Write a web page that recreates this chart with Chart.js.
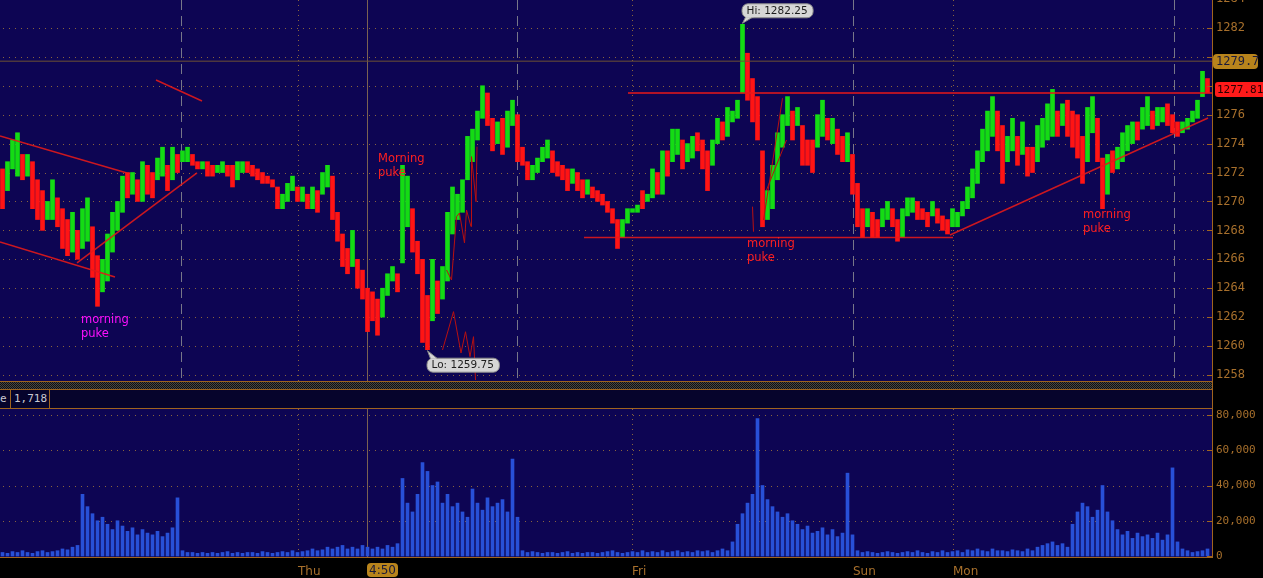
<!DOCTYPE html>
<html><head><meta charset="utf-8">
<script src="https://cdn.jsdelivr.net/npm/chart.js@4.4.1/dist/chart.umd.min.js"></script>
<style>
html,body{margin:0;padding:0;background:#000;overflow:hidden}
#wrap{position:relative;width:1263px;height:578px;background:#000}
canvas{position:absolute;left:0;display:block}
.ln{position:absolute;left:0;width:1213px;height:1px;background:#a0641e}
#chk{position:absolute;left:0;top:382px;width:1212px;height:7px;background-color:#202020;background-image:repeating-conic-gradient(#444 0 25%,#111 0 50%);background-size:2px 2px}
#hdr{position:absolute;left:0;top:390px;width:1212px;height:18px;background:#06042c;font:11px "DejaVu Sans Mono",monospace;color:#c9c9d2}
#hdr span{position:absolute;top:2px}
#hdr i{position:absolute;top:0;width:1px;height:18px;background:#a0641e}
#ax{position:absolute;left:1212px;top:381px;width:1px;height:28px;background:#a0641e}
</style></head>
<body><div id="wrap">
<canvas id="pc" width="1263" height="381" style="top:0"></canvas>
<div class="ln" style="top:381px"></div>
<div id="chk"></div>
<div class="ln" style="top:389px"></div>
<div id="hdr"><span style="left:0">e</span><i style="left:10px"></i><span style="left:14px">1,718</span><i style="left:49px"></i></div>
<div class="ln" style="top:408px"></div>
<div id="ax"></div>
<canvas id="vc" width="1263" height="169" style="top:409px"></canvas>
</div>
<script>
// ---------- DATA ----------
const barHigh = [
1272.25,1272.75,1274.25,1274.75,1273.25,1273.25,1272.75,1271.5,1270.75,1270,
1271.5,1270.25,1269.5,1268.75,1269.25,1268,1269.5,1270.25,1268.25,1266.25,
1266,1267.75,1269.25,1270,1271.75,1272,1272,1271.5,1272.75,1272.5,
1272,1273,1273.75,1272.5,1273.75,1273.25,1273.5,1273.75,1273.25,1272.75,
1272.75,1272.75,1272.5,1272.5,1272.75,1272.5,1272.5,1272.75,1272.75,1272.75,
1272.5,1272.25,1272,1271.75,1271.5,1271,1270.5,1271.25,1271.75,1271,
1271,1270.5,1271,1270.75,1272,1272.5,1271.75,1269.25,1267.75,1266.75,
1268,1266,1265.25,1264,1263.75,1263.25,1264,1265,1265.5,1265,
1272.5,1271.75,1269.5,1267.25,1266,1263.5,1266,1264.5,1265.5,1269.25,
1271,1270.5,1271.5,1274.5,1275,1276.25,1278,1277.5,1275.75,1275.5,
1275.75,1276.25,1277,1276,1273.75,1272.75,1272.5,1273,1273.75,1274.25,
1273.5,1272.75,1272.5,1272.25,1272.25,1272,1271.5,1271.5,1271,1270.75,
1270.5,1270,1269.5,1268.75,1268.75,1269.5,1269.5,1269.75,1270.75,1270.5,
1272.25,1272,1273.5,1273.5,1275,1275,1274.25,1274,1274.5,1274.75,
1274.25,1273.5,1274.25,1275.75,1275.5,1276.5,1276.25,1277,1282.25,1280.25,
1278.5,1277.25,1273.5,1270.75,1272.5,1274.75,1276,1277.25,1276.25,1276.5,
1275.25,1274.25,1274.25,1276,1277,1275.75,1275.75,1275,1274.5,1274.75,
1273.25,1271.25,1269.5,1269.5,1269.25,1268.75,1269.5,1270,1269.5,1268.75,
1269.5,1270.25,1270.25,1270,1269.5,1269.25,1270,1269.5,1269,1268.75,
1269.5,1269.25,1270,1271,1272.25,1273.5,1275,1276.25,1277.25,1276.25,
1275.25,1274.5,1275.75,1274.5,1275.5,1273.75,1273.75,1275.25,1275.75,1276.75,
1277.75,1276.25,1276.75,1277,1276.25,1276,1274.5,1276.5,1277.25,1275.75,
1273,1273.25,1273.5,1273.75,1274.75,1275.25,1275.5,1275.5,1276.5,1277.25,
1276.25,1276.5,1276.5,1276.75,1276,1275.5,1275.5,1275.75,1276.25,1277,
1279,1278.5];
const barLow = [
1269.5,1270.75,1272.25,1271.75,1271.5,1271.75,1269.5,1268.75,1268,1268.75,
1268.75,1268.25,1266.75,1266.25,1266.5,1266,1266.75,1267.25,1264.75,1262.75,
1263.75,1264.5,1266.5,1268,1269.25,1270.25,1270.5,1270,1270,1270.5,
1270.25,1271.5,1271.75,1270.75,1271.5,1272,1272.75,1272.75,1272.5,1272.25,
1272.25,1271.75,1271.75,1272,1272,1271.75,1271,1271.5,1272,1272,
1271.75,1271.5,1271.25,1271.25,1271,1269.5,1269.5,1270,1270.75,1270,
1270,1269.5,1269.5,1269.25,1270.5,1271,1268.75,1267.25,1265.5,1265,
1265.5,1264,1263.25,1261,1261.75,1260.75,1262,1263.5,1264.5,1263.75,
1265.75,1268.25,1266.5,1265,1260.25,1259.75,1261.75,1262.25,1263.25,1264.5,
1267.75,1268.75,1269.25,1271.5,1272.75,1274.25,1275.75,1275.25,1273.5,1274,
1273.25,1273.75,1275.25,1272.75,1272.5,1271.5,1271.5,1272,1272.75,1273,
1272,1271.75,1271.5,1270.75,1271.25,1270.75,1270.25,1270.5,1270.25,1270,
1269.75,1269.25,1268.5,1266.75,1267.5,1268.5,1269.25,1269.25,1269.5,1270,
1270.25,1270.5,1270.5,1271.75,1272.75,1273.25,1272.25,1272.75,1273,1273.5,
1272.25,1270.75,1272.5,1274,1274.25,1274.5,1275.5,1275.75,1277.5,1277,
1275.5,1274.25,1268.25,1268.75,1269.5,1271.5,1273.75,1275.25,1274.25,1275.25,
1272.5,1272.5,1272,1273.75,1274.5,1274.25,1274,1273.25,1272.75,1272.75,
1270.5,1268.25,1267.5,1268.25,1267.5,1267.5,1268.25,1268.75,1268.25,1267.25,
1267.5,1269,1269.25,1268.75,1268.75,1268.25,1269,1268.5,1268,1267.75,
1268.25,1268.25,1269,1269.5,1270.25,1271.25,1272.75,1273.5,1274.5,1273.5,
1271.25,1272.75,1273.5,1272.5,1273.25,1271.75,1272,1272.75,1273.75,1274.25,
1274.5,1274.5,1275.25,1274.5,1273.75,1273,1271.25,1272.75,1274.75,1272.75,
1269.5,1270.5,1272,1272.25,1272.75,1273.5,1274,1274.25,1275,1275.25,
1275,1275.25,1275.5,1275.25,1274.75,1274.5,1274.75,1275,1275.5,1275.75,
1277.25,1277.5];
const barUp = [
0,1,1,1,0,1,0,0,0,1, 1,0,0,0,1,0,1,1,0,0, 1,1,1,1,1,0,1,0,1,0, 0,1,1,0,1,0,1,1,0,0,
1,0,0,1,1,0,0,1,1,0, 0,0,0,0,0,0,1,1,1,0, 1,0,1,0,1,1,0,0,0,0, 1,0,0,0,0,0,1,1,1,0,
1,1,0,0,0,0,1,0,1,1, 1,1,1,1,1,1,1,0,0,1, 0,1,1,0,0,0,1,1,1,1, 0,0,0,0,1,0,0,1,0,0,
0,0,0,0,1,1,1,1,0,1, 1,0,1,0,1,1,0,1,1,0, 0,0,1,1,0,1,1,1,1,0, 0,0,0,1,1,1,1,1,0,1,
0,0,0,1,1,0,1,0,0,1, 0,0,0,1,0,0,1,1,0,0, 1,1,1,0,0,0,1,0,0,0, 1,1,1,1,1,1,1,1,1,0,
0,1,1,0,1,0,0,1,1,1, 1,0,1,0,0,0,0,1,1,0, 0,1,0,1,1,1,1,0,1,1, 0,1,1,0,0,0,1,1,1,1,
1,0];
const volume = [
2000,1500,2500,2000,3000,2000,1500,2500,3000,2000,
2500,3000,4000,3500,5000,6000,35000,28000,24000,20000,
22000,18000,15000,20000,17000,14000,16000,12000,15000,13000,
12000,14000,11000,13000,16000,33000,3000,2000,2000,1500,
2000,1500,2000,1500,2000,2500,1500,2000,1500,2000,
2000,1500,2500,2000,1500,2000,2500,2000,3000,2000,
2500,3000,4000,3000,3500,5000,4000,5000,6000,4000,
5000,4000,6000,5000,4000,5000,4000,6000,5000,7000,
44000,30000,25000,35000,53000,48000,40000,42000,30000,35000,
28000,30000,25000,22000,38000,30000,26000,33000,28000,30000,
32000,25000,55000,22000,3000,2000,2500,2000,1500,2000,
2000,1500,2000,2500,1500,2000,1500,2000,2000,1500,
2000,2500,3000,2000,1500,2000,2500,2000,3000,2000,
2500,2000,3000,2000,2500,3000,2000,2500,2000,3000,
2500,3000,2000,3000,4000,3000,8000,18000,24000,30000,
35000,78000,40000,32000,28000,25000,22000,24000,20000,18000,
15000,17000,13000,14000,16000,12000,15000,11000,13000,47000,
12000,3000,2000,2500,2000,1500,2000,2500,2000,1500,
2000,2500,2000,3000,2000,1500,2500,2000,3000,2000,
2500,3000,2000,3500,3000,4000,3000,2500,4000,3000,
3000,2500,3500,3000,2500,4000,3000,5000,6000,7000,
8000,6000,7000,5000,18000,25000,30000,28000,22000,26000,
40000,25000,20000,15000,12000,14000,10000,13000,11000,12000,
10000,13000,9000,12000,50000,8000,4000,3000,2000,2500,
3000,4000];
const priceTicks = [1258,1260,1262,1264,1266,1268,1270,1272,1274,1276,1278,1280,1282,1284];
const volumeTicks = [0,20000,40000,60000,80000];
const dayTickIdx = [59.6,126.4,170.6,190.6];
const dayTickLabels = ['Thu','Fri','Sun','Mon'];
const cursorIdx = 73.4, cursorLabel = '4:50';
const dayLineIdx = [59.6,126.4,190.6];
const sessionLineIdx = [36.2,103.4,170.6,234.8];
// drawn lines (index, price)
const trendUpperLeft = [{x:0,y:1274.53},{x:25.4,y:1271.97}];
const trendLowerLeft = [{x:0,y:1267.2},{x:23,y:1264.78}];
const trendRiseLeft = [{x:15.4,y:1265.75},{x:39.4,y:1271.97}];
const trendShortTop = [{x:31.2,y:1278.4},{x:40.4,y:1276.95}];
const supportMid = [{x:116.8,y:1267.5},{x:190.6,y:1267.5}];
const trendRiseRight = [{x:190,y:1267.68},{x:241.6,y:1275.77}];
const resistRight = [{x:125.6,y:1277.5},{x:242.4,y:1277.5}];
const level1279 = [{x:0,y:1279.7},{x:242.4,y:1279.7}];
const zigLower = [{x:88.5,y:1259.73},{x:90.7,y:1262.38},{x:92.2,y:1259.52},{x:93.1,y:1260.99},{x:94,y:1259.27},{x:94.7,y:1260.65},{x:95.1,y:1257.65}];
const zigUpper = [{x:89.3,y:1265.26},{x:90.3,y:1264.57},{x:91.3,y:1268.95},{x:91.9,y:1269.2},{x:92.9,y:1267.13},{x:93.3,y:1269.41},{x:94.2,y:1268.26},{x:94.3,y:1273.1},{x:95.2,y:1269.98},{x:95.4,y:1273.79}];
const zigRightA = [{x:150.5,y:1269.64},{x:150.7,y:1267.91}];
const zigRightB = [{x:152.7,y:1268.72},{x:156.5,y:1277.14}];
const zigRightC = [{x:153.3,y:1270.79},{x:157.3,y:1274.25}];
const hiMark = {idx:148.5, price:1282.25, text:'Hi: 1282.25'};
const loMark = {idx:85.5, price:1259.75, text:'Lo: 1259.75'};
const levelBoxes = [{price:1279.7, text:'1279.7'},{price:1277.81, text:'1277.81'}];
const hiddenTickLabels = [1278,1280];
const notes = [
 {idx:75.6, price:1273.3, lines:['Morning','puke'], color:'#ff2020'},
 {idx:16.2, price:1262.2, lines:['morning','puke'], color:'#ff10ff'},
 {idx:149.4, price:1267.45, lines:['morning','puke'], color:'#ff2020'},
 {idx:216.6, price:1269.45, lines:['morning','puke'], color:'#ff2020'}
];

// ---------- STYLE ----------
const PLOT_BG = '#0d0553', AXIS = '#a0641e', TICKC = '#a8702c';
const GRID = 'rgba(150,110,60,0.9)', SESSION = 'rgba(125,125,140,0.95)', CURSOR = '#7a6252';
const GREEN = '#14dc14', RED = '#ff1414', VOL = '#2850d7';
Chart.defaults.font.family = 'DejaVu Sans';

function bg(chart){
  const {ctx, chartArea:a, width, height} = chart;
  ctx.save(); ctx.fillStyle='#000'; ctx.fillRect(0,0,width,height);
  ctx.fillStyle=PLOT_BG; ctx.fillRect(a.left,a.top,a.right-a.left,a.bottom-a.top); ctx.restore();
}
function vline(ctx,x,a,dash,color){
  const px=Math.round(x)+0.5; ctx.strokeStyle=color; ctx.setLineDash(dash);
  ctx.beginPath(); ctx.moveTo(px,a.top); ctx.lineTo(px,a.bottom); ctx.stroke();
}
function hgrid(ctx,sc,ticks,a){
  ctx.strokeStyle=GRID; ctx.setLineDash([1,5]);
  ticks.forEach(v=>{const py=Math.round(sc.getPixelForValue(v))+0.5; if(py<a.top+1||py>a.bottom-1) return;
    ctx.beginPath(); ctx.moveTo(a.left+3,py); ctx.lineTo(a.right-8,py); ctx.stroke();});
}
function axisDeco(ctx,sc,ticks,a){
  ctx.setLineDash([]); ctx.strokeStyle=AXIS; ctx.lineWidth=1;
  ctx.beginPath(); ctx.moveTo(a.right+0.5,a.top); ctx.lineTo(a.right+0.5,a.bottom); ctx.stroke();
  ticks.forEach(v=>{const py=Math.round(sc.getPixelForValue(v))+0.5; if(py<a.top||py>a.bottom) return;
    ctx.beginPath(); ctx.moveTo(a.right-5,py); ctx.lineTo(a.right,py); ctx.stroke();});
}
function bubble(ctx,ax,ay,text,below){
  ctx.font='10.5px "DejaVu Sans"';
  const w=ctx.measureText(text).width+10, h=14;
  const bx = ax-1, by = below ? ay+8 : ay-21;
  ctx.fillStyle='#d6d6d6'; ctx.strokeStyle='#8a8a8a'; ctx.lineWidth=1; ctx.setLineDash([]);
  ctx.beginPath(); ctx.roundRect(bx+0.5,by+0.5,w,h,6); ctx.fill(); ctx.stroke();
  ctx.beginPath();
  if(below){ctx.moveTo(bx+4,by+1); ctx.lineTo(ax,ay+1); ctx.lineTo(bx+11,by+1);}
  else {ctx.moveTo(bx+4,by+h); ctx.lineTo(ax,ay-1); ctx.lineTo(bx+11,by+h);}
  ctx.fill(); ctx.strokeStyle='#8a8a8a'; ctx.stroke();
  ctx.fillStyle='#d6d6d6'; ctx.fillRect(bx+4,below?by+1.5:by+h-2,8,2);
  ctx.fillStyle='#1c1c1c'; ctx.textBaseline='middle'; ctx.textAlign='left';
  ctx.fillText(text,bx+5,by+h/2+1);
}

const pricePlugin = {
  id:'priceDeco',
  beforeDraw: bg,
  beforeDatasetsDraw(chart){
    const {ctx, chartArea:a, scales:{x,y}} = chart;
    ctx.save(); ctx.lineWidth=1;
    hgrid(ctx,y,priceTicks,a);
    dayLineIdx.forEach(v=>vline(ctx,x.getPixelForValue(v),a,[1,4],GRID));
    sessionLineIdx.forEach(v=>vline(ctx,x.getPixelForValue(v),a,[10,6],SESSION));
    vline(ctx,x.getPixelForValue(cursorIdx),a,[],CURSOR);
    ctx.restore();
  },
  afterDraw(chart){
    const {ctx, chartArea:a, scales:{x,y}} = chart;
    ctx.save();
    axisDeco(ctx,y,priceTicks,a);
    ctx.textBaseline='middle'; ctx.textAlign='left';
    const b1=levelBoxes[0], p1=Math.round(y.getPixelForValue(b1.price));
    ctx.font='12px "DejaVu Sans Mono"';
    ctx.fillStyle='#b8841c'; ctx.beginPath(); ctx.roundRect(a.right+1,p1-7,45,15,4); ctx.fill();
    ctx.fillStyle='#1a1a3a'; ctx.fillText(b1.text,a.right+4,p1+1);
    const b2=levelBoxes[1], p2=Math.round(y.getPixelForValue(b2.price));
    ctx.font='11px "DejaVu Sans Mono"';
    ctx.fillStyle='#ff1a1a'; ctx.beginPath(); ctx.roundRect(a.right+3,p2-7,60,15,3); ctx.fill();
    ctx.fillStyle='#2a0000'; ctx.fillText(b2.text,a.right+5,p2+1);
    ctx.font='11.5px "DejaVu Sans"'; ctx.textBaseline='top';
    notes.forEach(n=>{ctx.fillStyle=n.color; n.lines.forEach((t,i)=>ctx.fillText(t,x.getPixelForValue(n.idx),y.getPixelForValue(n.price)+i*14));});
    bubble(ctx,x.getPixelForValue(hiMark.idx),y.getPixelForValue(hiMark.price),hiMark.text,false);
    bubble(ctx,x.getPixelForValue(loMark.idx),y.getPixelForValue(loMark.price),loMark.text,true);
    ctx.restore();
  }
};

const volPlugin = {
  id:'volDeco',
  beforeDraw: bg,
  beforeDatasetsDraw(chart){
    const {ctx, chartArea:a, scales:{x,y}} = chart;
    ctx.save(); ctx.lineWidth=1;
    hgrid(ctx,y,volumeTicks.slice(1),a);
    dayLineIdx.forEach(v=>vline(ctx,x.getPixelForValue(v),a,[1,4],GRID));
    vline(ctx,x.getPixelForValue(cursorIdx),a,[],CURSOR);
    ctx.restore();
  },
  afterDraw(chart){
    const {ctx, chartArea:a, scales:{x,y}} = chart;
    ctx.save();
    axisDeco(ctx,y,volumeTicks,a);
    ctx.strokeStyle=AXIS; ctx.beginPath(); ctx.moveTo(a.left,a.bottom+0.5); ctx.lineTo(a.right+1,a.bottom+0.5); ctx.stroke();
    const cx=Math.round(x.getPixelForValue(cursorIdx));
    ctx.fillStyle='#b8841c'; ctx.beginPath(); ctx.roundRect(cx,a.bottom+6,31,14,4); ctx.fill();
    ctx.fillStyle='#1a1a3a'; ctx.font='12px "DejaVu Sans"'; ctx.textAlign='center'; ctx.textBaseline='middle';
    ctx.fillText(cursorLabel,cx+15.5,a.bottom+13.5);
    ctx.restore();
  }
};

const lineSet = (pts,color,w)=>({type:'line',data:pts,borderColor:color,borderWidth:w,pointRadius:0,fill:false,tension:0,order:1});

new Chart(document.getElementById('pc'),{
  type:'bar',
  data:{datasets:[
    {type:'bar',data:barLow.map((lo,i)=>({x:i+0.5,y:[lo,barHigh[i]]})),backgroundColor:barUp.map(u=>u?GREEN:RED),
     barThickness:4,borderWidth:0,grouped:false,order:3},
    lineSet(level1279,'#6e5234',1),
    lineSet(resistRight,'#e81818',1.5),
    lineSet(trendUpperLeft,'rgba(225,25,25,0.9)',1.5),
    lineSet(trendLowerLeft,'rgba(225,25,25,0.9)',1.5),
    lineSet(trendRiseLeft,'rgba(225,25,25,0.9)',1.5),
    lineSet(trendShortTop,'rgba(225,25,25,0.9)',1.5),
    lineSet(supportMid,'rgba(225,25,25,0.9)',1.5),
    lineSet(trendRiseRight,'rgba(225,25,25,0.9)',1.5),
    lineSet(zigLower,'#b81010',1),
    lineSet(zigUpper,'#b81010',1),
    lineSet(zigRightA,'#b81010',1),
    lineSet(zigRightB,'#b81010',1),
    lineSet(zigRightC,'#b81010',1)
  ]},
  options:{
    responsive:false,animation:false,layout:{padding:0},
    plugins:{legend:{display:false},tooltip:{enabled:false}},
    scales:{
      x:{type:'linear',min:0,max:242.4,offset:false,display:false},
      y:{position:'right',min:1257.585,max:1283.93,bounds:'data',
        afterFit(s){s.width=51;s.paddingTop=0;s.paddingBottom=0;},
        afterBuildTicks(s){s.ticks=priceTicks.map(v=>({value:v}));},
        grid:{display:false,drawTicks:false},border:{display:false},
        ticks:{autoSkip:false,padding:4,color:TICKC,font:{family:'DejaVu Sans Mono',size:12},
          callback:v=>hiddenTickLabels.includes(v)?'':String(v)}}
    }
  },
  plugins:[pricePlugin]
});

new Chart(document.getElementById('vc'),{
  type:'bar',
  data:{datasets:[{data:volume.map((v,i)=>({x:i+0.5,y:v})),backgroundColor:VOL,barThickness:3,borderWidth:0}]},
  options:{
    responsive:false,animation:false,layout:{padding:0},
    plugins:{legend:{display:false},tooltip:{enabled:false}},
    scales:{
      x:{type:'linear',min:0,max:242.4,offset:false,position:'bottom',
        afterFit(s){s.height=21;s.paddingLeft=0;s.paddingRight=0;},
        afterBuildTicks(s){s.ticks=dayTickIdx.map(v=>({value:v}));},
        grid:{display:false,drawTicks:false},border:{display:false},
        ticks:{autoSkip:false,maxRotation:0,align:'start',padding:8,color:TICKC,font:{family:'DejaVu Sans',size:12},
          callback:(v,i)=>dayTickLabels[i]}},
      y:{position:'right',min:-567,max:83404,bounds:'data',
        afterFit(s){s.width=51;s.paddingTop=0;s.paddingBottom=0;},
        afterBuildTicks(s){s.ticks=volumeTicks.map(v=>({value:v}));},
        grid:{display:false,drawTicks:false},border:{display:false},
        ticks:{autoSkip:false,padding:4,color:TICKC,font:{family:'DejaVu Sans Mono',size:11},
          callback:v=>v.toLocaleString('en-US')}}
    }
  },
  plugins:[volPlugin]
});
</script>
</body></html>
